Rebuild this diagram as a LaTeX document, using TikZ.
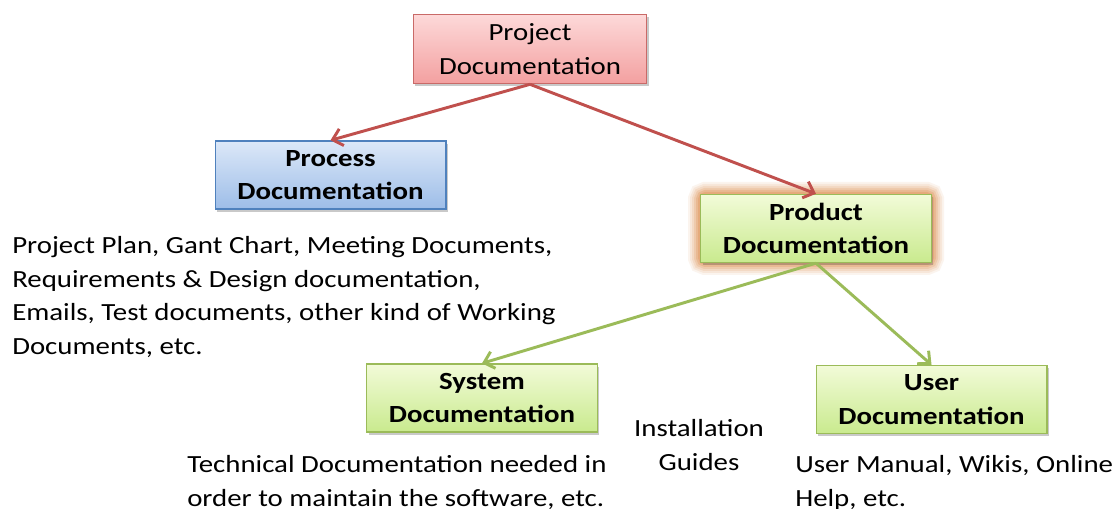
\documentclass[tikz,border=0pt]{standalone}
\usepackage{fontspec}
\setmainfont[FakeStretch=1.17]{Carlito}
\usetikzlibrary{arrows.meta,shadows,positioning}
\definecolor{redline}{HTML}{C0504D}
\definecolor{greenline}{HTML}{9BBB59}
\definecolor{blueline}{HTML}{4F81BD}
\definecolor{pinktop}{HTML}{FDD9D9}
\definecolor{pinkbot}{HTML}{F3A0A0}
\definecolor{bluetop}{HTML}{DCE8F8}
\definecolor{bluebot}{HTML}{9DBDE8}
\definecolor{greentop}{HTML}{F2FBD8}
\definecolor{greenbot}{HTML}{C9EA8E}
\definecolor{glow}{HTML}{E0955A}
\tikzset{
  box/.style={draw, line width=1pt, minimum width=173pt, minimum height=51pt,
    align=center, inner sep=2pt, font=\fontsize{18.5}{25}\selectfont,
    drop shadow={shadow xshift=1.5pt, shadow yshift=-2pt, opacity=0.35, fill=black!60}},
  redbox/.style={box, draw=redline!85, top color=pinktop, bottom color=pinkbot},
  bluebox/.style={box, draw=blueline, top color=bluetop, bottom color=bluebot, font=\fontsize{18.5}{25}\selectfont\bfseries},
  greenbox/.style={box, draw=greenline, top color=greentop, bottom color=greenbot, font=\fontsize{18.5}{25}\selectfont\bfseries},
  desc/.style={align=left, inner sep=0pt, font=\fontsize{18.5}{25.3}\selectfont},
  redarrow/.style={draw=redline, line width=2.2pt, -{Straight Barb[length=7pt,width=13pt]}},
  greenarrow/.style={draw=greenline, line width=2.2pt, -{Straight Barb[length=7pt,width=13pt]}},
}
\begin{document}
\begin{tikzpicture}[x=0.75pt,y=-0.75pt]
\useasboundingbox[fill=white] (0,0) rectangle (1117,509);
% product glow
\foreach \w/\o in {18/0.10,15/0.13,12/0.17,9/0.22,6/0.3,3/0.4}{
  \draw[glow, line width=\w pt, opacity=\o, rounded corners=4pt] (700,194) rectangle (932,263);
}
\node[redbox, minimum width=175pt, minimum height=52pt] (proj) at (530,49) {Project\\Documentation};
\node[bluebox] (proc) at (330.5,175) {Process\\Documentation};
\node[greenbox] (prod) at (816,228.5) {Product\\Documentation};
\node[greenbox] (sys) at (482,398) {System\\Documentation};
\node[greenbox] (user) at (931.5,399.5) {User\\Documentation};

\draw[redarrow] (proj.south) -- (proc.north);
\draw[redarrow] (proj.south) -- (prod.north);
\draw[greenarrow] (prod.south) -- (sys.north);
\draw[greenarrow] (prod.south) -- (user.north);

\node[desc, anchor=north west] (procdesc) at (12,236) {Project Plan, Gant Chart, Meeting Documents,\\Requirements \& Design documentation,\\Emails, Test documents, other kind of Working\\Documents, etc.};
\node[desc, anchor=north west] (sysdesc) at (187,455) {Technical Documentation needed in\\order to maintain the software, etc.};
\node[desc, anchor=north, align=center] (inst) at (699,419) {Installation\\Guides};
\node[desc, anchor=north west] (userdesc) at (795,455) {User Manual, Wikis, Online\\Help, etc.};
\end{tikzpicture}
\end{document}
